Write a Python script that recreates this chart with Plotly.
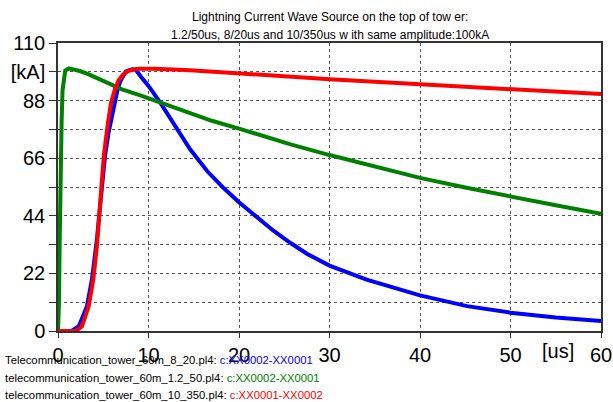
import plotly.graph_objects as go

# ---- data ----
t_blue = [0, 1.5, 2.3, 3.2, 3.75, 4.3, 4.86, 5.2, 5.6, 6.15, 6.6, 6.9, 7.5, 8.2, 8.6, 9.1, 10,
          11.3, 12.8, 14.6, 16.5, 18.3, 20, 22, 23.8, 25.7, 27.5, 30, 34.1, 40, 45.2, 50, 55, 60]
i_blue = [0, 0, 1.8, 9.5, 19.7, 35, 55, 67, 76, 86, 92.5, 95.5, 99.2, 100, 99.8, 97.4, 93.6,
          87.2, 78.9, 69.4, 61.0, 54.6, 49.2, 43.3, 38.3, 33.6, 29.5, 25.0, 19.6, 13.6, 9.5,
          7.0, 5.2, 3.8]

t_green = [0, 0.1, 0.2, 0.3, 0.4, 0.5, 0.8, 1.2, 1.6, 2.5, 3.4, 5.2, 7.07, 9.1, 10, 12, 14.5,
           17, 20, 23, 25.7, 30, 35, 40, 45, 50, 55, 60]
i_green = [0, 10, 38, 70, 80, 92, 99.5, 100.3, 100.0, 99.2, 98.0, 95.1, 92.3, 90.0, 88.9, 86.5,
           83.3, 80.3, 77.3, 74.0, 71.3, 67.2, 62.7, 58.5, 54.8, 51.3, 48.0, 44.8]

t_red = [0, 2.0, 2.65, 3.4, 3.9, 4.3, 4.86, 5.1, 5.5, 5.85, 6.3, 6.7, 7.2, 7.8, 8.9, 10.75,
         14.6, 20, 26.8, 30, 40, 50, 60]
i_red = [0, 0, 1.8, 9.5, 19.7, 32.4, 58, 68, 79, 87, 92.5, 95.8, 98, 99.4, 100.2, 100.2,
         99.6, 98.3, 96.7, 96.2, 94.2, 92.3, 90.5]

x_ticks = [0, 10, 20, 30, 40, 50, 60]
y_ticks = [0, 11, 22, 33, 44, 55, 66, 77, 88, 99, 110]
y_ticktext = ["0", "", "22", "", "44", "", "66", "", "88", "[kA]", "110"]

title_lines = ["Lightning Current Wave Source on the top of tow er:",
               "1.2/50us, 8/20us and 10/350us w ith same amplitude:100kA"]
legend_files = ["Telecommunication_tower_60m_8_20.pl4: ",
                "telecommunication_tower_60m_1.2_50.pl4: ",
                "telecommunication_tower_60m_10_350.pl4: "]
legend_vars = ["c:XX0002-XX0001", "c:XX0002-XX0001", "c:XX0001-XX0002"]
colors = ["#0000FF", "#008000", "#FF0000"]

fig = go.Figure()
for t, v, c in [(t_blue, i_blue, colors[0]), (t_green, i_green, colors[1]), (t_red, i_red, colors[2])]:
    fig.add_trace(go.Scatter(x=t, y=v, mode="lines", line=dict(color=c, width=4),
                             showlegend=False, hoverinfo="skip"))

font_main = "Liberation Sans, Arial, sans-serif"

fig.update_layout(
    width=613, height=402,
    margin=dict(l=58, r=12, t=43, b=71),
    paper_bgcolor="white", plot_bgcolor="white",
    font=dict(family=font_main, color="#000"),
    xaxis=dict(range=[0, 60], tickvals=x_ticks, ticks="outside", ticklen=5, tickcolor="#333",
               showgrid=True, gridcolor="#555", griddash="dot", gridwidth=1,
               showline=True, linecolor="#333", linewidth=1.5, mirror=True, automargin=False,
               zeroline=False, tickfont=dict(size=20, family=font_main)),
    yaxis=dict(range=[0, 110], tickvals=y_ticks, ticktext=y_ticktext, ticks="outside",
               ticklen=7, tickcolor="#333", automargin=False,
               showgrid=True, gridcolor="#555", griddash="dot", gridwidth=1,
               showline=True, linecolor="#333", linewidth=1.5, mirror=True,
               zeroline=False, tickfont=dict(size=20, family=font_main)),
)

for k, line in enumerate(title_lines):
    fig.add_annotation(text=line, xref="paper", yref="paper", x=0.5, y=1.0,
                       xanchor="center", yanchor="middle", yshift=26 - 18 * k, showarrow=False,
                       font=dict(size=12, family=font_main, color="#000"))

fig.add_annotation(text="[us]", xref="x", yref="paper", x=55.2, y=0, yshift=-20,
                   xanchor="center", yanchor="middle", showarrow=False,
                   font=dict(size=20, family=font_main, color="#000"))

for k in range(3):
    fig.add_annotation(text=legend_files[k] + "<span style='color:%s'>%s</span>" % (colors[k], legend_vars[k]),
                       xref="paper", yref="paper", x=-55/543, y=0, xanchor="left", yanchor="middle",
                       yshift=-(29 + 17.5 * k), showarrow=False, align="left",
                       font=dict(size=11.3, family=font_main, color="#000"))

fig.write_html("out.html")
